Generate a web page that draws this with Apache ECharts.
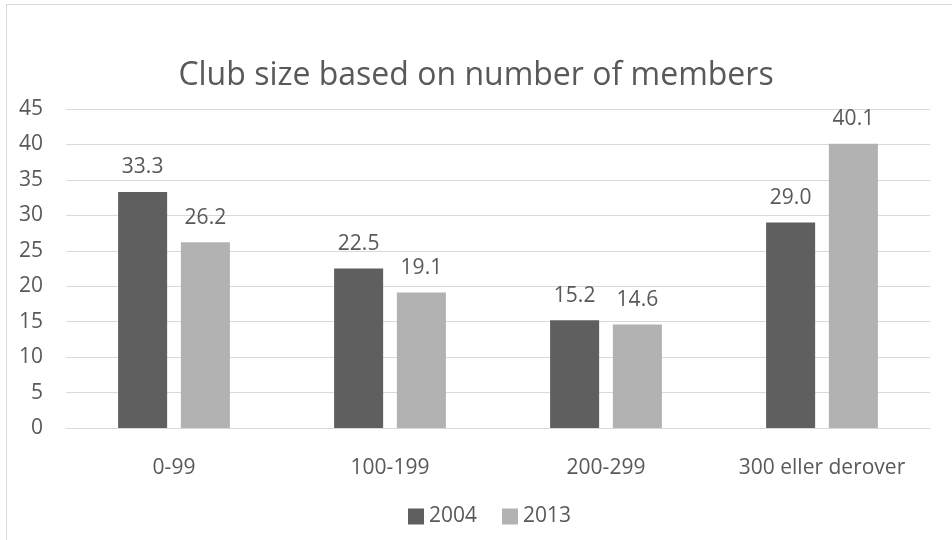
<!DOCTYPE html>
<html>
<head>
<meta charset="utf-8">
<script src="https://cdn.jsdelivr.net/npm/echarts@6/dist/echarts.min.js"></script>
<style>
  html, body { margin: 0; padding: 0; background: #fff; overflow: hidden; }
  #frame { position: absolute; left: 6px; top: 4px; width: 2000px; height: 2000px; border: 1px solid #d9d9d9; }
  #chart { position: absolute; left: 0; top: 0; width: 952px; height: 540px; }
</style>
</head>
<body>
<div id="frame"></div>
<div id="chart"></div>
<script>
var categories = ['0-99', '100-199', '200-299', '300 eller derover']
var values2004 = [33.3, 22.5, 15.2, 29.0]
var values2013 = [26.2, 19.1, 14.6, 40.1]
var seriesNames = ['2004', '2013']

var font = '"Open Sans", sans-serif'
var textColor = '#595959'

var chart = echarts.init(document.getElementById('chart'))
chart.setOption({
  animation: false,
  textStyle: { fontFamily: font, color: textColor },
  title: {
    text: 'Club size based on number of members',
    left: 'center',
    top: 55,
    textStyle: { fontFamily: font, fontSize: 32, fontWeight: 'normal', color: textColor }
  },
  legend: {
    data: seriesNames,
    left: 403,
    top: 501,
    itemWidth: 16,
    itemHeight: 16,
    itemGap: 25,
    icon: 'rect',
    textStyle: { fontFamily: font, fontSize: 21, color: textColor, padding: [0, 0, 0, 0] }
  },
  grid: { left: 66, right: 22, top: 109, bottom: 112 },
  xAxis: {
    type: 'category',
    data: categories,
    axisLine: { lineStyle: { color: '#d9d9d9', width: 1 } },
    axisTick: { show: false },
    axisLabel: { interval: 0, margin: 30, fontSize: 21, fontFamily: font, color: textColor }
  },
  yAxis: {
    type: 'value',
    min: 0,
    max: 45,
    interval: 5,
    axisLine: { show: false },
    axisTick: { show: false },
    splitLine: { lineStyle: { color: '#d9d9d9', width: 1 } },
    axisLabel: { margin: 23, fontSize: 21, fontFamily: font, color: textColor }
  },
  series: [
    {
      name: seriesNames[0],
      type: 'bar',
      data: values2004,
      barWidth: '22.7%',
      barGap: '28%',
      itemStyle: { color: '#5f5f5f' },
      label: { show: true, position: 'top', distance: 14, fontSize: 21, fontFamily: font, color: textColor,
        formatter: function (p) { return p.value.toFixed(1) } }
    },
    {
      name: seriesNames[1],
      type: 'bar',
      data: values2013,
      barWidth: '22.7%',
      barGap: '28%',
      itemStyle: { color: '#b2b2b2' },
      label: { show: true, position: 'top', distance: 14, fontSize: 21, fontFamily: font, color: textColor,
        formatter: function (p) { return p.value.toFixed(1) } }
    }
  ]
})
</script>
</body>
</html>
